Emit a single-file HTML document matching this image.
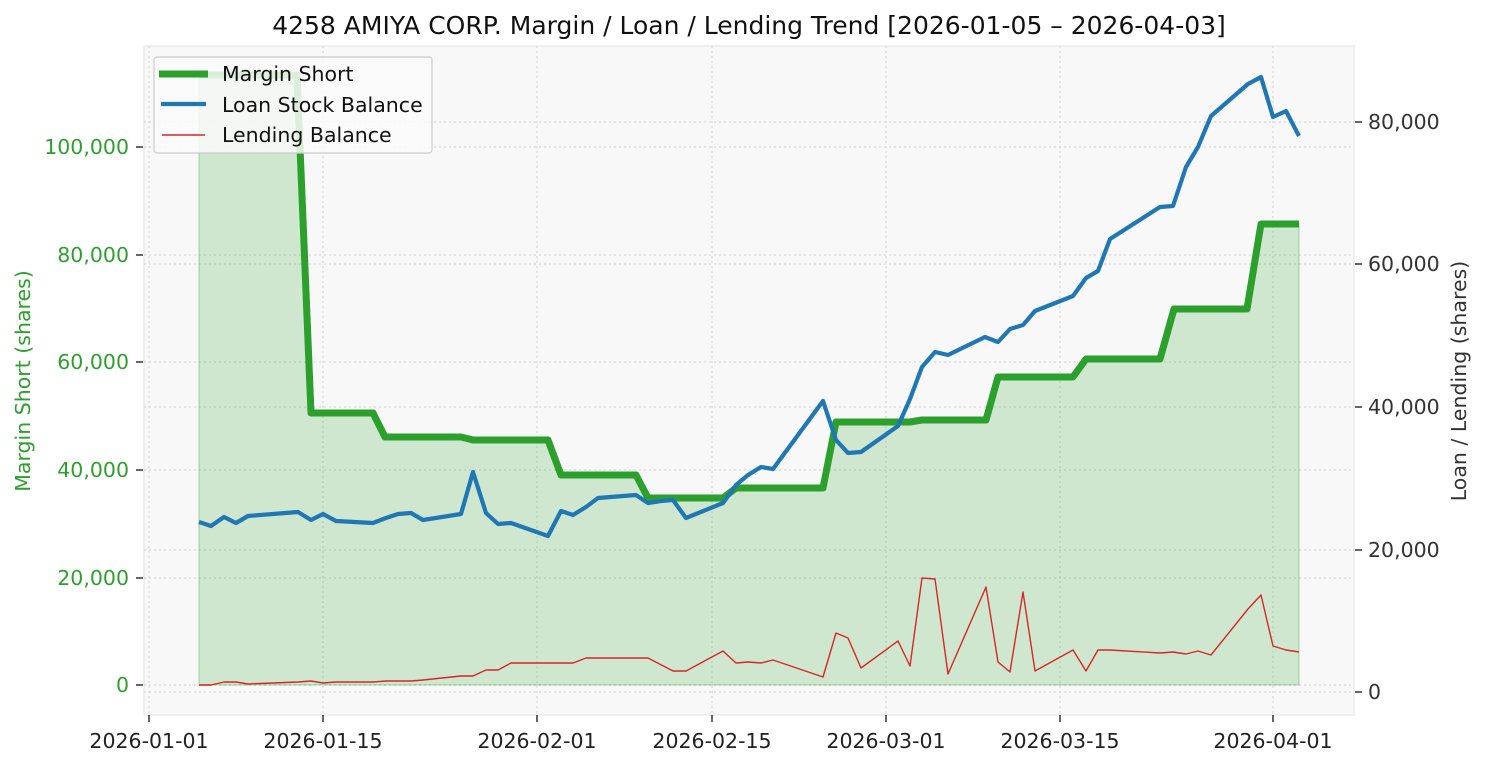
<!DOCTYPE html>
<html><head><meta charset="utf-8"><style>
html,body{margin:0;padding:0;background:#fff;}
svg{display:block;font-family:"DejaVu Sans","Liberation Sans",sans-serif;}
</style></head><body>
<svg width="1485" height="765" viewBox="0 0 1485 765" xmlns="http://www.w3.org/2000/svg">
<rect x="0" y="0" width="1485" height="765" fill="#fff"/>
<rect x="144" y="46" width="1210" height="669" fill="#f8f8f8" stroke="#ebebeb" stroke-width="1.5"/>
<g stroke="#d8d8d8" stroke-width="1.2" stroke-dasharray="2,3" fill="none">
<line x1="149" y1="46" x2="149" y2="715"/>
<line x1="323" y1="46" x2="323" y2="715"/>
<line x1="537" y1="46" x2="537" y2="715"/>
<line x1="712" y1="46" x2="712" y2="715"/>
<line x1="886" y1="46" x2="886" y2="715"/>
<line x1="1060" y1="46" x2="1060" y2="715"/>
<line x1="1273" y1="46" x2="1273" y2="715"/>
<line x1="144" y1="685" x2="1354" y2="685"/>
<line x1="144" y1="578" x2="1354" y2="578"/>
<line x1="144" y1="470" x2="1354" y2="470"/>
<line x1="144" y1="362" x2="1354" y2="362"/>
<line x1="144" y1="255" x2="1354" y2="255"/>
<line x1="144" y1="147" x2="1354" y2="147"/>
<line x1="144" y1="692" x2="1354" y2="692"/>
<line x1="144" y1="550" x2="1354" y2="550"/>
<line x1="144" y1="407" x2="1354" y2="407"/>
<line x1="144" y1="264" x2="1354" y2="264"/>
<line x1="144" y1="122" x2="1354" y2="122"/>
</g>
<polygon fill="#2ca02c" fill-opacity="0.2" stroke="#2ca02c" stroke-opacity="0.2" stroke-width="2" points="199,685 199,75 297,75 311,413 373,413 385,437 461,437 473,440 548,440 561,475 636,475 648,498 723,498 736,488 823,488 836,422 910,422 922,420 986,420 998,377 1073,377 1086,359 1160,359 1174,309 1247,309 1261,224 1299,224 1299,685"/>
<polyline fill="none" stroke="#2ca02c" stroke-width="7" stroke-linejoin="round" points="199,75 297,75 311,413 373,413 385,437 461,437 473,440 548,440 561,475 636,475 648,498 723,498 736,488 823,488 836,422 910,422 922,420 986,420 998,377 1073,377 1086,359 1160,359 1174,309 1247,309 1261,224 1299,224"/>
<polyline fill="none" stroke="#1f77b4" stroke-width="4.2" stroke-linejoin="round" points="199,522 211,526 224,517 236,523 248,516 298,512 311,520 323,514 336,521 373,523 386,518 398,514 411,513 423,520 461,514 473,472 486,513 498,524 511,523 548,536 561,511 573,515 586,507 598,498 636,495 648,503 661,501 673,500 686,518 723,503 736,485 748,475 761,467 773,469 823,401 836,440 848,453 861,452 898,426 910,399 922,367 935,352 948,355 985,337 998,342 1010,329 1023,325 1035,311 1073,296 1086,278 1098,271 1110,239 1160,207 1173,206 1186,167 1198,147 1211,116 1248,84 1261,77 1273,117 1286,111 1299,136"/>
<polyline fill="none" stroke="#d62728" stroke-width="1.4" stroke-linejoin="round" points="199,685 211,685 224,682 236,682 248,684 298,682 311,681 323,683 336,682 373,682 386,681 411,681 423,680 461,676 473,676 486,670 498,670 511,663 573,663 586,658 648,658 673,671 686,671 723,651 736,663 748,662 761,663 773,660 823,677 836,633 848,638 861,668 898,641 910,666 922,578 935,579 948,674 986,587 998,662 1010,672 1023,592 1035,671 1073,650 1086,671 1098,650 1110,650 1160,653 1173,652 1186,654 1198,651 1211,655 1248,609 1261,595 1273,646 1286,650 1299,652"/>
<g stroke="#333" stroke-width="1.5">
<line x1="149" y1="715" x2="149" y2="722"/><line x1="323" y1="715" x2="323" y2="722"/><line x1="537" y1="715" x2="537" y2="722"/><line x1="712" y1="715" x2="712" y2="722"/><line x1="886" y1="715" x2="886" y2="722"/><line x1="1060" y1="715" x2="1060" y2="722"/><line x1="1273" y1="715" x2="1273" y2="722"/>
<line x1="136" y1="685" x2="143" y2="685"/><line x1="136" y1="578" x2="143" y2="578"/><line x1="136" y1="470" x2="143" y2="470"/><line x1="136" y1="362" x2="143" y2="362"/><line x1="136" y1="255" x2="143" y2="255"/><line x1="136" y1="147" x2="143" y2="147"/>
<line x1="1355" y1="692" x2="1362" y2="692"/><line x1="1355" y1="550" x2="1362" y2="550"/><line x1="1355" y1="407" x2="1362" y2="407"/><line x1="1355" y1="264" x2="1362" y2="264"/><line x1="1355" y1="122" x2="1362" y2="122"/>
</g>
<g font-size="20.5" fill="#222" text-anchor="middle">
<text x="149" y="748">2026-01-01</text><text x="323" y="748">2026-01-15</text><text x="537" y="748">2026-02-01</text><text x="712" y="748">2026-02-15</text><text x="886" y="748">2026-03-01</text><text x="1060" y="748">2026-03-15</text><text x="1273" y="748">2026-04-01</text>
</g>
<g font-size="20.5" fill="#2ca02c" text-anchor="end">
<text x="129" y="692">0</text><text x="129" y="585">20,000</text><text x="129" y="477">40,000</text><text x="129" y="369">60,000</text><text x="129" y="262">80,000</text><text x="129" y="154">100,000</text>
</g>
<g font-size="20.5" fill="#333" text-anchor="start">
<text x="1368" y="699">0</text><text x="1368" y="557">20,000</text><text x="1368" y="414">40,000</text><text x="1368" y="271">60,000</text><text x="1368" y="129">80,000</text>
</g>
<text transform="translate(30,381) rotate(-90)" font-size="20.5" fill="#2ca02c" text-anchor="middle">Margin Short (shares)</text>
<text transform="translate(1466,381) rotate(-90)" font-size="20.5" fill="#333" text-anchor="middle">Loan / Lending (shares)</text>
<text x="749" y="34" font-size="25" fill="#111" text-anchor="middle">4258 AMIYA CORP. Margin / Loan / Lending Trend [2026-01-05 – 2026-04-03]</text>
<rect x="154" y="57" width="278" height="96" rx="3" fill="#fafafa" fill-opacity="0.85" stroke="#cccccc" stroke-width="1.2"/>
<line x1="159" y1="74" x2="208" y2="74" stroke="#2ca02c" stroke-width="7"/>
<line x1="161" y1="104" x2="206" y2="104" stroke="#1f77b4" stroke-width="4.2"/>
<line x1="162" y1="135" x2="205" y2="135" stroke="#d62728" stroke-width="1.4"/>
<g font-size="20.5" fill="#111">
<text x="222" y="81">Margin Short</text><text x="222" y="112">Loan Stock Balance</text><text x="222" y="142">Lending Balance</text>
</g>
</svg>
</body></html>
